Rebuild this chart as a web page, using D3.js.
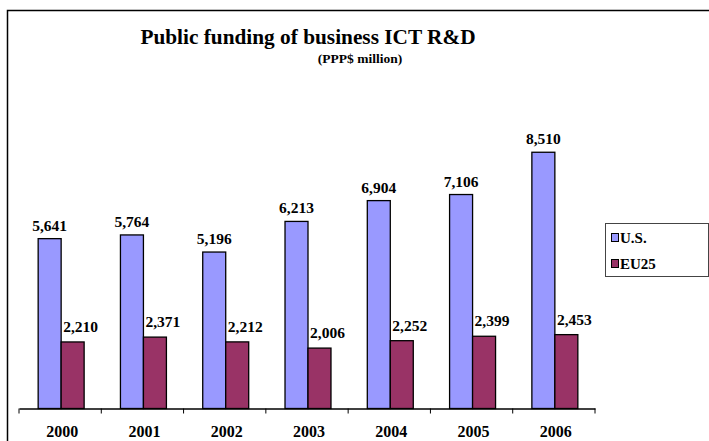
<!DOCTYPE html>
<meta charset="utf-8">
<style>
body { margin: 0; background: #fff; }
text { font-family: "Liberation Serif", "Times New Roman", serif; font-weight: bold; fill: #000; }
</style>
<svg width="709" height="441"></svg>
<script src="https://d3js.org/d3.v7.min.js"></script>
<script>

var years = ["2000", "2001", "2002", "2003", "2004", "2005", "2006"];
var seriesNames = ["U.S.", "EU25"];
var usValues = [5641, 5764, 5196, 6213, 6904, 7106, 8510];
var euValues = [2210, 2371, 2212, 2006, 2252, 2399, 2453];
var colors = ["#9999ff", "#993366"];

var svg = d3.select("svg");

// outer chart border (runs off the right / bottom edge)
svg.append("rect")
    .attr("x", 7.5).attr("y", 10.5)
    .attr("width", 760).attr("height", 480)
    .attr("fill", "none").attr("stroke", "#000").attr("stroke-width", 1.5);

var x = d3.scaleBand()
    .domain(years)
    .range([19, 595]);

var xs = d3.scaleBand()
    .domain(seriesNames)
    .range([1, x.bandwidth() + 1])
    .paddingOuter(0.79);

var y = d3.scaleLinear()
    .domain([0, 9000])
    .range([408.5, 137.5]);

var rows = years.map(function(yr, i) {
  return { year: yr, values: [usValues[i], euValues[i]] };
});

var groups = svg.append("g").selectAll("g")
  .data(rows)
  .enter().append("g")
    .attr("transform", function(d) { return "translate(" + x(d.year) + ",0)"; });

groups.selectAll("rect")
  .data(function(d) { return d.values.map(function(v, j) { return { key: seriesNames[j], value: v, j: j }; }); })
  .enter().append("rect")
    .attr("x", function(d) { return xs(d.key); })
    .attr("y", function(d) { return y(d.value); })
    .attr("width", xs.bandwidth())
    .attr("height", function(d) { return y(0) - y(d.value); })
    .attr("fill", function(d) { return colors[d.j]; })
    .attr("stroke", "#000")
    .attr("stroke-width", 1.3);

groups.selectAll("text.lbl")
  .data(function(d) { return d.values.map(function(v, j) { return { key: seriesNames[j], value: v, j: j }; }); })
  .enter().append("text")
    .attr("class", "lbl")
    .attr("x", function(d) { return xs(d.key) + xs.bandwidth() / 2 + (d.j === 1 ? 8 : 0); })
    .attr("y", function(d) { return y(d.value) - (d.j === 1 ? 10 : 8); })
    .attr("text-anchor", "middle")
    .attr("font-size", 15.5)
    .text(function(d) { return d3.format(",")(d.value); });

// x axis
var axis = svg.append("g")
    .attr("transform", "translate(0,408.5)")
    .call(d3.axisBottom(x).tickSize(0).tickPadding(17));
axis.select(".domain").attr("stroke", "#000").attr("stroke-width", 1.3);
axis.selectAll("text")
    .attr("dx", 2)
    .attr("font-size", 16)
    .attr("font-family", "Liberation Serif")
    .attr("font-weight", "bold");

// tick marks at category boundaries
var bounds = years.map(function(d) { return x(d); }).concat([x.range()[1]]);
axis.selectAll("line.tk")
  .data(bounds)
  .enter().append("line")
    .attr("class", "tk")
    .attr("x1", function(d) { return d; }).attr("x2", function(d) { return d; })
    .attr("y1", 0).attr("y2", 5)
    .attr("stroke", "#000").attr("stroke-width", 1);

// titles
svg.append("text")
    .attr("x", 308).attr("y", 44)
    .attr("text-anchor", "middle")
    .attr("font-size", 21.3)
    .text("Public funding of business ICT R&D");
svg.append("text")
    .attr("x", 360).attr("y", 63)
    .attr("text-anchor", "middle")
    .attr("font-size", 13.5)
    .text("(PPP$ million)");

// legend
var lg = svg.append("g");
lg.append("rect")
    .attr("x", 605.5).attr("y", 223.5)
    .attr("width", 103).attr("height", 53)
    .attr("fill", "#fff").attr("stroke", "#444").attr("stroke-width", 1);
var items = lg.selectAll("g")
  .data(seriesNames)
  .enter().append("g")
    .attr("transform", function(d, i) { return "translate(611," + (237 + i * 26) + ")"; });
items.append("rect")
    .attr("x", 0.5).attr("y", -3.5)
    .attr("width", 7).attr("height", 8)
    .attr("fill", function(d, i) { return colors[i]; })
    .attr("stroke", "#000");
items.append("text")
    .attr("x", 9).attr("y", 5.5)
    .attr("font-size", 15)
    .text(function(d) { return d; });

</script>
